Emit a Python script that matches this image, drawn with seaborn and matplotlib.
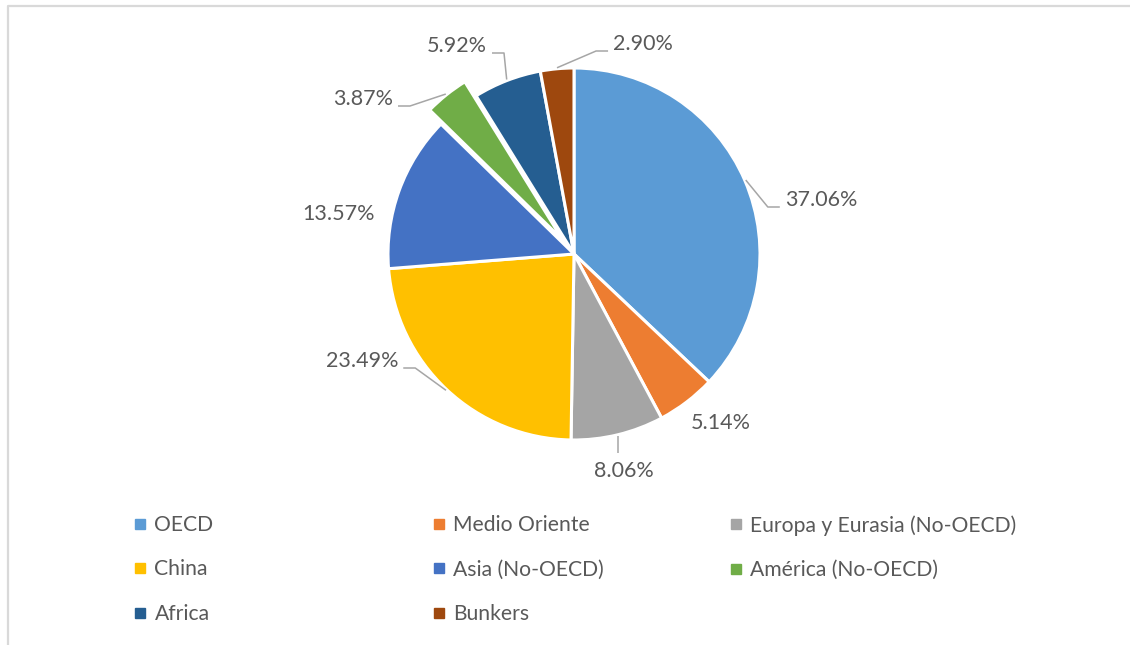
import numpy as np
import matplotlib
matplotlib.use("Agg")
import matplotlib.pyplot as plt
from matplotlib.lines import Line2D
from matplotlib.legend import Legend
import seaborn as sns

# ---- data ----
regions = ["OECD", "Medio Oriente", "Europa y Eurasia (No-OECD)", "China",
           "Asia (No-OECD)", "América (No-OECD)", "Africa", "Bunkers"]
shares = [37.06, 5.14, 8.06, 23.49, 13.57, 3.87, 5.92, 2.90]
colors = ["#5B9BD5", "#ED7D31", "#A5A5A5", "#FFC000",
          "#4472C4", "#70AD47", "#255E91", "#9E480E"]

# ---- layout (pixels, top-left origin) ----
W, H = 1130, 645
pie_cx, pie_cy, pie_r = 574, 254, 186
explode = [0, 0, 0, 0, 0, 18, 0, 0]
label_pos = [(821, 200), (721, 423), (624, 471), (362, 361),
             (339, 214), (363, 99), (457, 46), (643, 44)]
leader_side = ["r", None, "b", "l", None, "l", "l", "r"]
legend_cols = [[0, 3, 6], [1, 4, 7], [2, 5]]
legend_x = [134, 433, 730]
legend_top = 515

sns.set_theme(style="white")
plt.rcParams["font.family"] = ["Lato", "DejaVu Sans"]
txt_color = "#595959"
line_color = "#A6A6A6"

fig = plt.figure(figsize=(W / 100, H / 100), dpi=100)
ax = fig.add_axes([0, 0, 1, 1])
ax.set_xlim(0, W)
ax.set_ylim(0, H)
ax.axis("off")

wedges, _ = ax.pie(shares, colors=colors, startangle=90, counterclock=False,
                   center=(pie_cx, H - pie_cy), radius=pie_r, explode=explode,
                   wedgeprops=dict(edgecolor="white", linewidth=2.2))
ax.set_xlim(0, W)
ax.set_ylim(0, H)

# percentage labels
texts = []
for v, (lx, ly) in zip(shares, label_pos):
    t = ax.text(lx, H - ly, f"{v:.2f}%", ha="center", va="center",
                fontsize=15.5, color=txt_color, fontweight="regular")
    texts.append(t)

fig.canvas.draw()
inv = ax.transData.inverted()
for w, t, side in zip(wedges, texts, leader_side):
    if side is None:
        continue
    th = np.deg2rad((w.theta1 + w.theta2) / 2)
    sx = w.center[0] + (w.r + 1) * np.cos(th)
    sy = w.center[1] + (w.r + 1) * np.sin(th)
    bb = t.get_window_extent().transformed(inv)
    cy = (bb.y0 + bb.y1) / 2
    if side == "b":
        xs, ys = [sx, sx], [sy, bb.y1 + 8]
    elif side == "r":
        ex = bb.x0 - 5
        xs, ys = [sx, ex - 12, ex], [sy, cy - 7, cy - 7]
    else:
        ex = bb.x1 + 5
        xs, ys = [sx, ex + 12, ex], [sy, cy - 7, cy - 7]
    ax.plot(xs, ys, color=line_color, lw=1.1, solid_capstyle="butt")

# legend, row-wise order in three columns
leg_font = {"family": ["Lato", "DejaVu Sans"], "weight": "regular", "size": 15.2}
for col, x0 in zip(legend_cols, legend_x):
    handles = [Line2D([], [], marker="s", linestyle="none", markersize=6.5,
                      markerfacecolor=colors[i], markeredgecolor=colors[i])
               for i in col]
    leg = Legend(ax, handles, [regions[i] for i in col], loc="upper left",
                 bbox_to_anchor=(x0, H - legend_top), bbox_transform=ax.transData,
                 frameon=False, prop=leg_font, labelcolor=txt_color,
                 handlelength=0.55, handletextpad=0.42, labelspacing=1.16,
                 borderpad=0, borderaxespad=0)
    ax.add_artist(leg)

# chart frame (partially visible)
fx = 8 / W
fy = 1 - 6 / H
fig.add_artist(Line2D([fx, fx, 1], [0, fy, fy], transform=fig.transFigure,
                      color="#D9D9D9", lw=1.6))

fig.savefig("out.png", dpi=100)
